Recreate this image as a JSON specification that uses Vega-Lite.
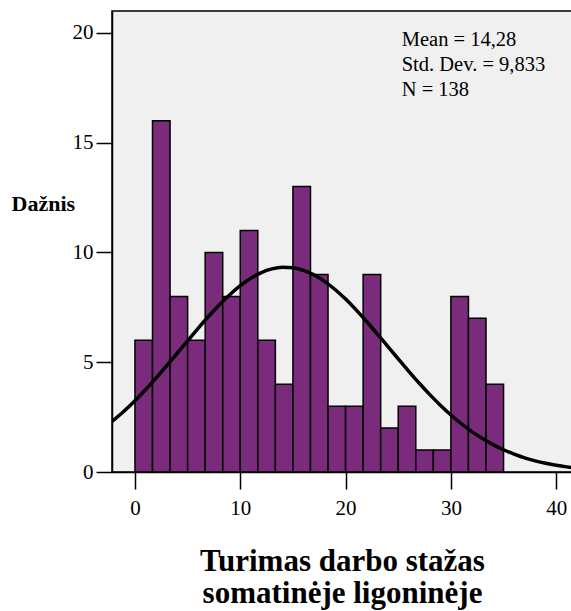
{
  "$schema": "https://vega.github.io/schema/vega-lite/v6.json",
  "autosize": "none",
  "width": 460,
  "height": 461,
  "padding": {"left": 112, "top": 11, "right": 0, "bottom": 139},
  "background": "white",
  "config": {
    "view": {"fill": "#f0f0f0", "stroke": "black", "strokeWidth": 1.5},
    "font": "Liberation Serif"
  },
  "datasets": {
    "bars": [
      {"start": 0, "end": 1.6667, "count": 6},
      {"start": 1.6667, "end": 3.3333, "count": 16},
      {"start": 3.3333, "end": 5, "count": 8},
      {"start": 5, "end": 6.6667, "count": 6},
      {"start": 6.6667, "end": 8.3333, "count": 10},
      {"start": 8.3333, "end": 10, "count": 8},
      {"start": 10, "end": 11.6667, "count": 11},
      {"start": 11.6667, "end": 13.3333, "count": 6},
      {"start": 13.3333, "end": 15, "count": 4},
      {"start": 15, "end": 16.6667, "count": 13},
      {"start": 16.6667, "end": 18.3333, "count": 9},
      {"start": 18.3333, "end": 20, "count": 3},
      {"start": 20, "end": 21.6667, "count": 3},
      {"start": 21.6667, "end": 23.3333, "count": 9},
      {"start": 23.3333, "end": 25, "count": 2},
      {"start": 25, "end": 26.6667, "count": 3},
      {"start": 26.6667, "end": 28.3333, "count": 1},
      {"start": 28.3333, "end": 30, "count": 1},
      {"start": 30, "end": 31.6667, "count": 8},
      {"start": 31.6667, "end": 33.3333, "count": 7},
      {"start": 33.3333, "end": 35, "count": 4}
    ],
    "curve": [
      {"x": -2.18, "y": 2.299},
      {"x": -1, "y": 2.79},
      {"x": 0, "y": 3.25},
      {"x": 1, "y": 3.749},
      {"x": 2, "y": 4.278},
      {"x": 3, "y": 4.832},
      {"x": 4, "y": 5.402},
      {"x": 5, "y": 5.977},
      {"x": 6, "y": 6.545},
      {"x": 7, "y": 7.094},
      {"x": 8, "y": 7.609},
      {"x": 9, "y": 8.077},
      {"x": 10, "y": 8.487},
      {"x": 11, "y": 8.825},
      {"x": 12, "y": 9.083},
      {"x": 13, "y": 9.251},
      {"x": 14, "y": 9.326},
      {"x": 15, "y": 9.305},
      {"x": 16, "y": 9.188},
      {"x": 17, "y": 8.98},
      {"x": 18, "y": 8.686},
      {"x": 19, "y": 8.315},
      {"x": 20, "y": 7.877},
      {"x": 21, "y": 7.387},
      {"x": 22, "y": 6.856},
      {"x": 23, "y": 6.297},
      {"x": 24, "y": 5.724},
      {"x": 25, "y": 5.15},
      {"x": 26, "y": 4.586},
      {"x": 27, "y": 4.041},
      {"x": 28, "y": 3.525},
      {"x": 29, "y": 3.043},
      {"x": 30, "y": 2.599},
      {"x": 31, "y": 2.198},
      {"x": 32, "y": 1.84},
      {"x": 33, "y": 1.524},
      {"x": 34, "y": 1.249},
      {"x": 35, "y": 1.013},
      {"x": 36, "y": 0.814},
      {"x": 37, "y": 0.647},
      {"x": 38, "y": 0.509},
      {"x": 39, "y": 0.396},
      {"x": 40, "y": 0.305},
      {"x": 41, "y": 0.233},
      {"x": 41.5, "y": 0.203}
    ],
    "stats": [
      {"x": 25.33, "y": 19.39, "label": "Mean = 14,28\nStd. Dev. = 9,833\nN = 138"}
    ]
  },
  "layer": [
    {
      "data": {"name": "bars"},
      "mark": {"type": "bar", "fill": "#7b2b7b", "stroke": "black", "strokeWidth": 1.5, "clip": true},
      "encoding": {
        "x": {
          "field": "start", "type": "quantitative",
          "scale": {"domain": [-2.18, 41.5], "nice": false, "zero": false},
          "axis": {
            "values": [0, 10, 20, 30, 40],
            "grid": false,
            "domainColor": "black", "domainWidth": 1.5,
            "tickColor": "black", "tickWidth": 1.5, "tickSize": 17,
            "labelFont": "Liberation Serif", "labelFontSize": 21, "labelColor": "black",
            "labelPadding": 8,
            "title": ["Turimas darbo stažas", "somatinėje ligoninėje"],
            "titleFont": "Liberation Serif", "titleFontSize": 31, "titleFontWeight": "bold",
            "titleColor": "black", "titleLineHeight": 32,
            "titleAnchor": "middle", "titleBaseline": "alphabetic", "titleY": 98
          }
        },
        "x2": {"field": "end"},
        "y": {
          "field": "count", "type": "quantitative",
          "scale": {"domain": [0, 21], "nice": false},
          "axis": {
            "values": [0, 5, 10, 15, 20],
            "grid": false,
            "domainColor": "black", "domainWidth": 1.5,
            "tickColor": "black", "tickWidth": 1.5, "tickSize": 16,
            "labelFont": "Liberation Serif", "labelFontSize": 21, "labelColor": "black",
            "labelPadding": 3,
            "title": "Dažnis",
            "titleFont": "Liberation Serif", "titleFontSize": 22, "titleFontWeight": "bold",
            "titleColor": "black", "titleAngle": 0, "titleAlign": "left",
            "titleBaseline": "middle", "titleX": -101, "titleY": 192
          }
        },
        "y2": {"datum": 0}
      }
    },
    {
      "data": {"name": "curve"},
      "mark": {"type": "line", "color": "black", "strokeWidth": 3.5, "clip": true, "interpolate": "monotone"},
      "encoding": {
        "x": {"field": "x", "type": "quantitative"},
        "y": {"field": "y", "type": "quantitative"}
      }
    },
    {
      "data": {"name": "stats"},
      "mark": {"type": "text", "align": "left", "baseline": "alphabetic", "font": "Liberation Serif", "fontSize": 20.5, "color": "black", "lineBreak": "\n", "lineHeight": 24.7},
      "encoding": {
        "x": {"field": "x", "type": "quantitative"},
        "y": {"field": "y", "type": "quantitative"},
        "text": {"field": "label"}
      }
    }
  ]
}
